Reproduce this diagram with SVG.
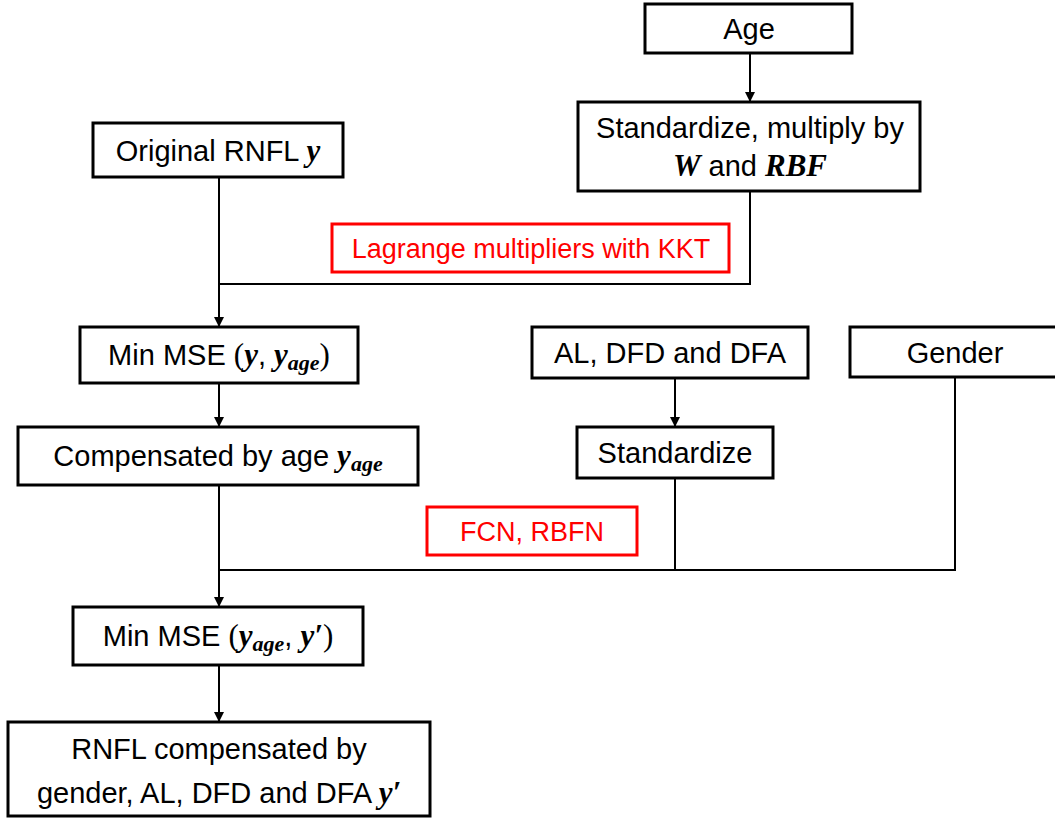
<svg xmlns="http://www.w3.org/2000/svg" width="1055" height="818" viewBox="0 0 1055 818">
<defs>
<style>
.box{fill:#fff;stroke:#000;stroke-width:3}
.rbox{fill:#fff;stroke:#ff0000;stroke-width:3}
.t{font-family:"Liberation Sans",Arial,sans-serif;font-size:29px;fill:#000;text-anchor:middle}
.r{fill:#ff0000;font-size:27px}
.m{font-family:"Liberation Serif","Times New Roman",serif;font-weight:bold;font-style:italic;font-size:31px}
.s{font-size:22px}
.p{font-family:"Liberation Serif","Times New Roman",serif;font-size:31px}
.ln{fill:none;stroke:#000;stroke-width:2}
</style>
<marker id="ah" markerWidth="10" markerHeight="10" refX="9" refY="5" orient="auto" markerUnits="userSpaceOnUse">
<path d="M0,0 L10,5 L0,10 z" fill="#000"/>
</marker>
</defs>
<rect width="1055" height="818" fill="#fff"/>
<g id="connectors">
<line class="ln" x1="750" y1="53" x2="750" y2="101" marker-end="url(#ah)"/>
<polyline class="ln" points="750,191 750,284 219,284"/>
<line class="ln" x1="219" y1="177" x2="219" y2="326" marker-end="url(#ah)"/>
<line class="ln" x1="219" y1="383" x2="219" y2="426" marker-end="url(#ah)"/>
<line class="ln" x1="675" y1="378" x2="675" y2="426" marker-end="url(#ah)"/>
<polyline class="ln" points="675,478 675,570"/>
<polyline class="ln" points="955,377 955,570 219,570"/>
<line class="ln" x1="219" y1="485" x2="219" y2="606" marker-end="url(#ah)"/>
<line class="ln" x1="219" y1="665" x2="219" y2="721" marker-end="url(#ah)"/>
</g>
<g id="age">
<rect class="box" x="645" y="4" width="207" height="49"/>
<text class="t" x="749" y="39">Age</text>
</g>
<g id="standardize-w">
<rect class="box" x="578" y="102" width="342" height="89"/>
<text class="t" x="750" y="138">Standardize, multiply by</text>
<text class="t" x="750" y="176"><tspan class="m">W</tspan> and <tspan class="m">RBF</tspan></text>
</g>
<g id="original">
<rect class="box" x="93" y="123" width="250" height="54"/>
<text class="t" x="218" y="161">Original RNFL <tspan class="m">y</tspan></text>
</g>
<g id="lagrange">
<rect class="rbox" x="332" y="224" width="397" height="48"/>
<text class="t r" x="531" y="258">Lagrange multipliers with KKT</text>
</g>
<g id="minmse1">
<rect class="box" x="80" y="327" width="278" height="56"/>
<text class="t" x="219" y="365">Min MSE <tspan class="p">(</tspan><tspan class="m">y</tspan>, <tspan class="m">y</tspan><tspan class="m s" dy="5">age</tspan><tspan class="p" dy="-5">)</tspan></text>
</g>
<g id="compensated-age">
<rect class="box" x="18" y="427" width="400" height="58"/>
<text class="t" x="218" y="466">Compensated by age <tspan class="m">y</tspan><tspan class="m s" dy="5">age</tspan></text>
</g>
<g id="al-dfd-dfa">
<rect class="box" x="532" y="327" width="276" height="51"/>
<text class="t" x="670" y="363">AL, DFD and DFA</text>
</g>
<g id="gender">
<rect class="box" x="850" y="327" width="212" height="50"/>
<text class="t" x="955" y="363">Gender</text>
</g>
<g id="standardize">
<rect class="box" x="577" y="427" width="196" height="51"/>
<text class="t" x="675" y="463">Standardize</text>
</g>
<g id="fcn">
<rect class="rbox" x="427" y="507" width="210" height="48"/>
<text class="t r" x="532" y="541">FCN, RBFN</text>
</g>
<g id="minmse2">
<rect class="box" x="73" y="607" width="290" height="58"/>
<text class="t" x="218" y="646">Min MSE <tspan class="p">(</tspan><tspan class="m">y</tspan><tspan class="m s" dy="5">age</tspan><tspan dy="-5">, </tspan><tspan class="m">y′</tspan><tspan class="p">)</tspan></text>
</g>
<g id="rnfl-final">
<rect class="box" x="8" y="722" width="422" height="94"/>
<text class="t" x="219" y="759">RNFL compensated by</text>
<text class="t" x="219" y="803">gender, AL, DFD and DFA <tspan class="m">y′</tspan></text>
</g>
</svg>
